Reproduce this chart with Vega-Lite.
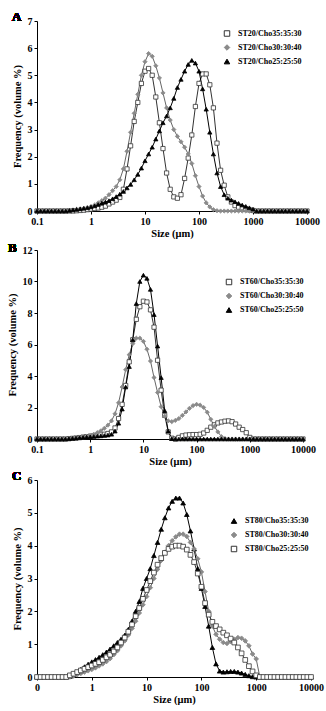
{
"$schema": "https://vega.github.io/schema/vega-lite/v6.json",
"padding": {"left": 7, "top": 11, "right": 2, "bottom": 0},
"spacing": 3,
"datasets": {
"A": [
{"s":1,"x":0.1,"y":0},{"s":1,"x":0.1166,"y":0},{"s":1,"x":0.1359,"y":0},{"s":1,"x":0.1585,"y":0},{"s":1,"x":0.1848,"y":0},{"s":1,"x":0.2154,"y":0},{"s":1,"x":0.2512,"y":0},{"s":1,"x":0.2929,"y":0},{"s":1,"x":0.3415,"y":0},{"s":1,"x":0.3981,"y":0},{"s":1,"x":0.4642,"y":0},{"s":1,"x":0.5412,"y":0.01},{"s":1,"x":0.631,"y":0.02},{"s":1,"x":0.7356,"y":0.03},{"s":1,"x":0.8577,"y":0.05},
{"s":1,"x":1,"y":0.07},{"s":1,"x":1.166,"y":0.09},{"s":1,"x":1.359,"y":0.11},{"s":1,"x":1.585,"y":0.14},{"s":1,"x":1.848,"y":0.18},{"s":1,"x":2.154,"y":0.26},{"s":1,"x":2.512,"y":0.33},{"s":1,"x":2.929,"y":0.4},{"s":1,"x":3.415,"y":0.5},{"s":1,"x":3.981,"y":0.8},{"s":1,"x":4.642,"y":1.55},{"s":1,"x":5.412,"y":2.4},{"s":1,"x":6.31,"y":3.3},{"s":1,"x":7.356,"y":4.0},{"s":1,"x":8.577,"y":4.7},
{"s":1,"x":10,"y":5.15},{"s":1,"x":11.66,"y":5.25},{"s":1,"x":13.59,"y":5.0},{"s":1,"x":15.85,"y":4.2},{"s":1,"x":18.48,"y":3.25},{"s":1,"x":21.54,"y":2.3},{"s":1,"x":25.12,"y":1.4},{"s":1,"x":29.29,"y":0.8},{"s":1,"x":34.15,"y":0.52},{"s":1,"x":39.81,"y":0.47},{"s":1,"x":46.42,"y":0.6},{"s":1,"x":54.12,"y":1.2},{"s":1,"x":63.1,"y":1.95},{"s":1,"x":73.56,"y":2.8},{"s":1,"x":85.77,"y":3.85},
{"s":1,"x":100,"y":4.7},{"s":1,"x":116.6,"y":5.05},{"s":1,"x":135.9,"y":5.05},{"s":1,"x":158.5,"y":4.65},{"s":1,"x":184.8,"y":3.8},{"s":1,"x":215.4,"y":2.5},{"s":1,"x":251.2,"y":1.5},{"s":1,"x":292.9,"y":0.95},{"s":1,"x":341.5,"y":0.52},{"s":1,"x":398.1,"y":0.33},{"s":1,"x":464.2,"y":0.2},{"s":1,"x":541.2,"y":0.14},{"s":1,"x":631,"y":0.1},{"s":1,"x":735.6,"y":0.07},{"s":1,"x":857.7,"y":0.04},
{"s":1,"x":1000,"y":0.02},{"s":1,"x":1166,"y":0},{"s":1,"x":1359,"y":0},{"s":1,"x":1585,"y":0},{"s":1,"x":1848,"y":0},{"s":1,"x":2154,"y":0},{"s":1,"x":2512,"y":0},{"s":1,"x":2929,"y":0},{"s":1,"x":3415,"y":0},{"s":1,"x":3981,"y":0},{"s":1,"x":4642,"y":0},{"s":1,"x":5412,"y":0},{"s":1,"x":6310,"y":0},{"s":1,"x":7356,"y":0},{"s":1,"x":8577,"y":0},{"s":1,"x":10000,"y":0},
{"s":2,"x":0.1,"y":0},{"s":2,"x":0.1166,"y":0},{"s":2,"x":0.1359,"y":0},{"s":2,"x":0.1585,"y":0},{"s":2,"x":0.1848,"y":0},{"s":2,"x":0.2154,"y":0},{"s":2,"x":0.2512,"y":0},{"s":2,"x":0.2929,"y":0},{"s":2,"x":0.3415,"y":0.01},{"s":2,"x":0.3981,"y":0.02},{"s":2,"x":0.4642,"y":0.04},{"s":2,"x":0.5412,"y":0.06},{"s":2,"x":0.631,"y":0.08},{"s":2,"x":0.7356,"y":0.1},{"s":2,"x":0.8577,"y":0.13},
{"s":2,"x":1,"y":0.17},{"s":2,"x":1.166,"y":0.22},{"s":2,"x":1.359,"y":0.3},{"s":2,"x":1.585,"y":0.38},{"s":2,"x":1.848,"y":0.47},{"s":2,"x":2.154,"y":0.6},{"s":2,"x":2.512,"y":0.75},{"s":2,"x":2.929,"y":0.9},{"s":2,"x":3.415,"y":1.15},{"s":2,"x":3.981,"y":1.55},{"s":2,"x":4.642,"y":2.2},{"s":2,"x":5.412,"y":2.9},{"s":2,"x":6.31,"y":3.6},{"s":2,"x":7.356,"y":4.3},{"s":2,"x":8.577,"y":5.0},
{"s":2,"x":10,"y":5.5},{"s":2,"x":11.66,"y":5.8},{"s":2,"x":13.59,"y":5.7},{"s":2,"x":15.85,"y":5.35},{"s":2,"x":18.48,"y":4.9},{"s":2,"x":21.54,"y":4.35},{"s":2,"x":25.12,"y":3.8},{"s":2,"x":29.29,"y":3.35},{"s":2,"x":34.15,"y":3.0},{"s":2,"x":39.81,"y":2.75},{"s":2,"x":46.42,"y":2.55},{"s":2,"x":54.12,"y":2.35},{"s":2,"x":63.1,"y":2.1},{"s":2,"x":73.56,"y":1.75},{"s":2,"x":85.77,"y":1.3},
{"s":2,"x":100,"y":0.9},{"s":2,"x":116.6,"y":0.55},{"s":2,"x":135.9,"y":0.3},{"s":2,"x":158.5,"y":0.15},{"s":2,"x":184.8,"y":0.05},{"s":2,"x":215.4,"y":0.01},{"s":2,"x":251.2,"y":0},{"s":2,"x":292.9,"y":0},{"s":2,"x":341.5,"y":0},{"s":2,"x":398.1,"y":0},{"s":2,"x":464.2,"y":0},{"s":2,"x":541.2,"y":0},{"s":2,"x":631,"y":0},{"s":2,"x":735.6,"y":0},{"s":2,"x":857.7,"y":0},
{"s":2,"x":1000,"y":0},{"s":2,"x":1166,"y":0},{"s":2,"x":1359,"y":0},{"s":2,"x":1585,"y":0},{"s":2,"x":1848,"y":0},{"s":2,"x":2154,"y":0},{"s":2,"x":2512,"y":0},{"s":2,"x":2929,"y":0},{"s":2,"x":3415,"y":0},{"s":2,"x":3981,"y":0},{"s":2,"x":4642,"y":0},{"s":2,"x":5412,"y":0},{"s":2,"x":6310,"y":0},{"s":2,"x":7356,"y":0},{"s":2,"x":8577,"y":0},{"s":2,"x":10000,"y":0},
{"s":3,"x":0.1,"y":0},{"s":3,"x":0.1166,"y":0},{"s":3,"x":0.1359,"y":0},{"s":3,"x":0.1585,"y":0},{"s":3,"x":0.1848,"y":0},{"s":3,"x":0.2154,"y":0},{"s":3,"x":0.2512,"y":0},{"s":3,"x":0.2929,"y":0},{"s":3,"x":0.3415,"y":0},{"s":3,"x":0.3981,"y":0.02},{"s":3,"x":0.4642,"y":0.04},{"s":3,"x":0.5412,"y":0.06},{"s":3,"x":0.631,"y":0.08},{"s":3,"x":0.7356,"y":0.1},{"s":3,"x":0.8577,"y":0.12},
{"s":3,"x":1,"y":0.15},{"s":3,"x":1.166,"y":0.19},{"s":3,"x":1.359,"y":0.24},{"s":3,"x":1.585,"y":0.29},{"s":3,"x":1.848,"y":0.33},{"s":3,"x":2.154,"y":0.38},{"s":3,"x":2.512,"y":0.45},{"s":3,"x":2.929,"y":0.53},{"s":3,"x":3.415,"y":0.62},{"s":3,"x":3.981,"y":0.72},{"s":3,"x":4.642,"y":0.85},{"s":3,"x":5.412,"y":0.98},{"s":3,"x":6.31,"y":1.15},{"s":3,"x":7.356,"y":1.35},{"s":3,"x":8.577,"y":1.58},
{"s":3,"x":10,"y":1.85},{"s":3,"x":11.66,"y":2.1},{"s":3,"x":13.59,"y":2.35},{"s":3,"x":15.85,"y":2.65},{"s":3,"x":18.48,"y":2.95},{"s":3,"x":21.54,"y":3.25},{"s":3,"x":25.12,"y":3.5},{"s":3,"x":29.29,"y":3.8},{"s":3,"x":34.15,"y":4.15},{"s":3,"x":39.81,"y":4.55},{"s":3,"x":46.42,"y":4.85},{"s":3,"x":54.12,"y":5.15},{"s":3,"x":63.1,"y":5.4},{"s":3,"x":73.56,"y":5.55},{"s":3,"x":85.77,"y":5.45},
{"s":3,"x":100,"y":5.15},{"s":3,"x":116.6,"y":4.5},{"s":3,"x":135.9,"y":3.75},{"s":3,"x":158.5,"y":2.9},{"s":3,"x":184.8,"y":2.1},{"s":3,"x":215.4,"y":1.4},{"s":3,"x":251.2,"y":0.9},{"s":3,"x":292.9,"y":0.6},{"s":3,"x":341.5,"y":0.47},{"s":3,"x":398.1,"y":0.4},{"s":3,"x":464.2,"y":0.34},{"s":3,"x":541.2,"y":0.28},{"s":3,"x":631,"y":0.22},{"s":3,"x":735.6,"y":0.17},{"s":3,"x":857.7,"y":0.12},
{"s":3,"x":1000,"y":0.07},{"s":3,"x":1166,"y":0},{"s":3,"x":1359,"y":0},{"s":3,"x":1585,"y":0},{"s":3,"x":1848,"y":0},{"s":3,"x":2154,"y":0},{"s":3,"x":2512,"y":0},{"s":3,"x":2929,"y":0},{"s":3,"x":3415,"y":0},{"s":3,"x":3981,"y":0},{"s":3,"x":4642,"y":0},{"s":3,"x":5412,"y":0},{"s":3,"x":6310,"y":0},{"s":3,"x":7356,"y":0},{"s":3,"x":8577,"y":0},{"s":3,"x":10000,"y":0}
],
"B": [
{"s":1,"x":0.1,"y":0},{"s":1,"x":0.1166,"y":0},{"s":1,"x":0.1359,"y":0},{"s":1,"x":0.1585,"y":0},{"s":1,"x":0.1848,"y":0},{"s":1,"x":0.2154,"y":0},{"s":1,"x":0.2512,"y":0},{"s":1,"x":0.2929,"y":0},{"s":1,"x":0.3415,"y":0},{"s":1,"x":0.3981,"y":0.02},{"s":1,"x":0.4642,"y":0.04},{"s":1,"x":0.5412,"y":0.06},{"s":1,"x":0.631,"y":0.09},{"s":1,"x":0.7356,"y":0.12},{"s":1,"x":0.8577,"y":0.15},
{"s":1,"x":1,"y":0.18},{"s":1,"x":1.166,"y":0.2},{"s":1,"x":1.359,"y":0.23},{"s":1,"x":1.585,"y":0.26},{"s":1,"x":1.848,"y":0.3},{"s":1,"x":2.154,"y":0.35},{"s":1,"x":2.512,"y":0.45},{"s":1,"x":2.929,"y":0.7},{"s":1,"x":3.415,"y":1.3},{"s":1,"x":3.981,"y":2.2},{"s":1,"x":4.642,"y":3.4},{"s":1,"x":5.412,"y":4.9},{"s":1,"x":6.31,"y":6.3},{"s":1,"x":7.356,"y":7.6},{"s":1,"x":8.577,"y":8.4},
{"s":1,"x":10,"y":8.75},{"s":1,"x":11.66,"y":8.7},{"s":1,"x":13.59,"y":8.2},{"s":1,"x":15.85,"y":7.1},{"s":1,"x":18.48,"y":5.0},{"s":1,"x":21.54,"y":3.1},{"s":1,"x":25.12,"y":1.5},{"s":1,"x":29.29,"y":0.45},{"s":1,"x":34.15,"y":0.05},{"s":1,"x":39.81,"y":0},{"s":1,"x":46.42,"y":0.1},{"s":1,"x":54.12,"y":0.2},{"s":1,"x":63.1,"y":0.25},{"s":1,"x":73.56,"y":0.27},{"s":1,"x":85.77,"y":0.28},
{"s":1,"x":100,"y":0.28},{"s":1,"x":116.6,"y":0.3},{"s":1,"x":135.9,"y":0.38},{"s":1,"x":158.5,"y":0.55},{"s":1,"x":184.8,"y":0.75},{"s":1,"x":215.4,"y":0.9},{"s":1,"x":251.2,"y":1.02},{"s":1,"x":292.9,"y":1.08},{"s":1,"x":341.5,"y":1.13},{"s":1,"x":398.1,"y":1.15},{"s":1,"x":464.2,"y":1.1},{"s":1,"x":541.2,"y":0.95},{"s":1,"x":631,"y":0.75},{"s":1,"x":735.6,"y":0.6},{"s":1,"x":857.7,"y":0.4},
{"s":1,"x":1000,"y":0.1},{"s":1,"x":1166,"y":0},{"s":1,"x":1359,"y":0},{"s":1,"x":1585,"y":0},{"s":1,"x":1848,"y":0},{"s":1,"x":2154,"y":0},{"s":1,"x":2512,"y":0},{"s":1,"x":2929,"y":0},{"s":1,"x":3415,"y":0},{"s":1,"x":3981,"y":0},{"s":1,"x":4642,"y":0},{"s":1,"x":5412,"y":0},{"s":1,"x":6310,"y":0},{"s":1,"x":7356,"y":0},{"s":1,"x":8577,"y":0},{"s":1,"x":10000,"y":0},
{"s":2,"x":0.1,"y":0},{"s":2,"x":0.1166,"y":0},{"s":2,"x":0.1359,"y":0},{"s":2,"x":0.1585,"y":0},{"s":2,"x":0.1848,"y":0},{"s":2,"x":0.2154,"y":0},{"s":2,"x":0.2512,"y":0},{"s":2,"x":0.2929,"y":0},{"s":2,"x":0.3415,"y":0},{"s":2,"x":0.3981,"y":0.02},{"s":2,"x":0.4642,"y":0.04},{"s":2,"x":0.5412,"y":0.07},{"s":2,"x":0.631,"y":0.1},{"s":2,"x":0.7356,"y":0.13},{"s":2,"x":0.8577,"y":0.17},
{"s":2,"x":1,"y":0.22},{"s":2,"x":1.166,"y":0.3},{"s":2,"x":1.359,"y":0.4},{"s":2,"x":1.585,"y":0.52},{"s":2,"x":1.848,"y":0.68},{"s":2,"x":2.154,"y":0.88},{"s":2,"x":2.512,"y":1.15},{"s":2,"x":2.929,"y":1.6},{"s":2,"x":3.415,"y":2.3},{"s":2,"x":3.981,"y":3.3},{"s":2,"x":4.642,"y":4.4},{"s":2,"x":5.412,"y":5.35},{"s":2,"x":6.31,"y":6.05},{"s":2,"x":7.356,"y":6.4},{"s":2,"x":8.577,"y":6.4},
{"s":2,"x":10,"y":6.2},{"s":2,"x":11.66,"y":5.7},{"s":2,"x":13.59,"y":4.95},{"s":2,"x":15.85,"y":3.9},{"s":2,"x":18.48,"y":2.95},{"s":2,"x":21.54,"y":2.05},{"s":2,"x":25.12,"y":1.45},{"s":2,"x":29.29,"y":1.15},{"s":2,"x":34.15,"y":1.1},{"s":2,"x":39.81,"y":1.18},{"s":2,"x":46.42,"y":1.3},{"s":2,"x":54.12,"y":1.5},{"s":2,"x":63.1,"y":1.72},{"s":2,"x":73.56,"y":1.95},{"s":2,"x":85.77,"y":2.12},
{"s":2,"x":100,"y":2.2},{"s":2,"x":116.6,"y":2.15},{"s":2,"x":135.9,"y":2.0},{"s":2,"x":158.5,"y":1.7},{"s":2,"x":184.8,"y":1.25},{"s":2,"x":215.4,"y":0.8},{"s":2,"x":251.2,"y":0.45},{"s":2,"x":292.9,"y":0.15},{"s":2,"x":341.5,"y":0.03},{"s":2,"x":398.1,"y":0},{"s":2,"x":464.2,"y":0},{"s":2,"x":541.2,"y":0},{"s":2,"x":631,"y":0},{"s":2,"x":735.6,"y":0},{"s":2,"x":857.7,"y":0},
{"s":2,"x":1000,"y":0},{"s":2,"x":1166,"y":0},{"s":2,"x":1359,"y":0},{"s":2,"x":1585,"y":0},{"s":2,"x":1848,"y":0},{"s":2,"x":2154,"y":0},{"s":2,"x":2512,"y":0},{"s":2,"x":2929,"y":0},{"s":2,"x":3415,"y":0},{"s":2,"x":3981,"y":0},{"s":2,"x":4642,"y":0},{"s":2,"x":5412,"y":0},{"s":2,"x":6310,"y":0},{"s":2,"x":7356,"y":0},{"s":2,"x":8577,"y":0},{"s":2,"x":10000,"y":0},
{"s":3,"x":0.1,"y":0},{"s":3,"x":0.1166,"y":0},{"s":3,"x":0.1359,"y":0},{"s":3,"x":0.1585,"y":0},{"s":3,"x":0.1848,"y":0},{"s":3,"x":0.2154,"y":0},{"s":3,"x":0.2512,"y":0},{"s":3,"x":0.2929,"y":0},{"s":3,"x":0.3415,"y":0},{"s":3,"x":0.3981,"y":0.02},{"s":3,"x":0.4642,"y":0.04},{"s":3,"x":0.5412,"y":0.06},{"s":3,"x":0.631,"y":0.08},{"s":3,"x":0.7356,"y":0.1},{"s":3,"x":0.8577,"y":0.12},
{"s":3,"x":1,"y":0.14},{"s":3,"x":1.166,"y":0.16},{"s":3,"x":1.359,"y":0.18},{"s":3,"x":1.585,"y":0.2},{"s":3,"x":1.848,"y":0.22},{"s":3,"x":2.154,"y":0.25},{"s":3,"x":2.512,"y":0.3},{"s":3,"x":2.929,"y":0.5},{"s":3,"x":3.415,"y":1.0},{"s":3,"x":3.981,"y":1.9},{"s":3,"x":4.642,"y":3.3},{"s":3,"x":5.412,"y":4.6},{"s":3,"x":6.31,"y":6.3},{"s":3,"x":7.356,"y":8.6},{"s":3,"x":8.577,"y":10.0},
{"s":3,"x":10,"y":10.4},{"s":3,"x":11.66,"y":10.2},{"s":3,"x":13.59,"y":9.5},{"s":3,"x":15.85,"y":7.9},{"s":3,"x":18.48,"y":5.9},{"s":3,"x":21.54,"y":3.9},{"s":3,"x":25.12,"y":1.8},{"s":3,"x":29.29,"y":0.5},{"s":3,"x":34.15,"y":0.02},{"s":3,"x":39.81,"y":0},{"s":3,"x":46.42,"y":0},{"s":3,"x":54.12,"y":0},{"s":3,"x":63.1,"y":0},{"s":3,"x":73.56,"y":0},{"s":3,"x":85.77,"y":0},
{"s":3,"x":100,"y":0},{"s":3,"x":116.6,"y":0},{"s":3,"x":135.9,"y":0},{"s":3,"x":158.5,"y":0},{"s":3,"x":184.8,"y":0},{"s":3,"x":215.4,"y":0},{"s":3,"x":251.2,"y":0},{"s":3,"x":292.9,"y":0},{"s":3,"x":341.5,"y":0},{"s":3,"x":398.1,"y":0},{"s":3,"x":464.2,"y":0},{"s":3,"x":541.2,"y":0},{"s":3,"x":631,"y":0},{"s":3,"x":735.6,"y":0},{"s":3,"x":857.7,"y":0},
{"s":3,"x":1000,"y":0},{"s":3,"x":1166,"y":0},{"s":3,"x":1359,"y":0},{"s":3,"x":1585,"y":0},{"s":3,"x":1848,"y":0},{"s":3,"x":2154,"y":0},{"s":3,"x":2512,"y":0},{"s":3,"x":2929,"y":0},{"s":3,"x":3415,"y":0},{"s":3,"x":3981,"y":0},{"s":3,"x":4642,"y":0},{"s":3,"x":5412,"y":0},{"s":3,"x":6310,"y":0},{"s":3,"x":7356,"y":0},{"s":3,"x":8577,"y":0},{"s":3,"x":10000,"y":0}
],
"C": [
{"s":1,"x":0.1,"y":0},{"s":1,"x":0.1166,"y":0},{"s":1,"x":0.1359,"y":0},{"s":1,"x":0.1585,"y":0},{"s":1,"x":0.1848,"y":0},{"s":1,"x":0.2154,"y":0},{"s":1,"x":0.2512,"y":0},{"s":1,"x":0.2929,"y":0},{"s":1,"x":0.3415,"y":0},{"s":1,"x":0.3981,"y":0.02},{"s":1,"x":0.4642,"y":0.08},{"s":1,"x":0.5412,"y":0.15},{"s":1,"x":0.631,"y":0.23},{"s":1,"x":0.7356,"y":0.31},{"s":1,"x":0.8577,"y":0.39},
{"s":1,"x":1,"y":0.46},{"s":1,"x":1.166,"y":0.53},{"s":1,"x":1.359,"y":0.6},{"s":1,"x":1.585,"y":0.68},{"s":1,"x":1.848,"y":0.76},{"s":1,"x":2.154,"y":0.85},{"s":1,"x":2.512,"y":0.95},{"s":1,"x":2.929,"y":1.05},{"s":1,"x":3.415,"y":1.15},{"s":1,"x":3.981,"y":1.27},{"s":1,"x":4.642,"y":1.45},{"s":1,"x":5.412,"y":1.7},{"s":1,"x":6.31,"y":2.0},{"s":1,"x":7.356,"y":2.3},{"s":1,"x":8.577,"y":2.7},
{"s":1,"x":10,"y":3.0},{"s":1,"x":11.66,"y":3.3},{"s":1,"x":13.59,"y":3.7},{"s":1,"x":15.85,"y":4.1},{"s":1,"x":18.48,"y":4.5},{"s":1,"x":21.54,"y":4.85},{"s":1,"x":25.12,"y":5.15},{"s":1,"x":29.29,"y":5.35},{"s":1,"x":34.15,"y":5.45},{"s":1,"x":39.81,"y":5.45},{"s":1,"x":46.42,"y":5.3},{"s":1,"x":54.12,"y":4.95},{"s":1,"x":63.1,"y":4.45},{"s":1,"x":73.56,"y":3.9},{"s":1,"x":85.77,"y":3.3},
{"s":1,"x":100,"y":2.7},{"s":1,"x":116.6,"y":2.15},{"s":1,"x":135.9,"y":1.55},{"s":1,"x":158.5,"y":0.9},{"s":1,"x":184.8,"y":0.4},{"s":1,"x":215.4,"y":0.18},{"s":1,"x":251.2,"y":0.15},{"s":1,"x":292.9,"y":0.16},{"s":1,"x":341.5,"y":0.17},{"s":1,"x":398.1,"y":0.17},{"s":1,"x":464.2,"y":0.15},{"s":1,"x":541.2,"y":0.12},{"s":1,"x":631,"y":0.08},{"s":1,"x":735.6,"y":0.04},{"s":1,"x":857.7,"y":0.01},
{"s":1,"x":1000,"y":0},{"s":1,"x":1166,"y":0},{"s":1,"x":1359,"y":0},{"s":1,"x":1585,"y":0},{"s":1,"x":1848,"y":0},{"s":1,"x":2154,"y":0},{"s":1,"x":2512,"y":0},{"s":1,"x":2929,"y":0},{"s":1,"x":3415,"y":0},{"s":1,"x":3981,"y":0},{"s":1,"x":4642,"y":0},{"s":1,"x":5412,"y":0},{"s":1,"x":6310,"y":0},{"s":1,"x":7356,"y":0},{"s":1,"x":8577,"y":0},{"s":1,"x":10000,"y":0},
{"s":2,"x":0.1,"y":0},{"s":2,"x":0.1166,"y":0},{"s":2,"x":0.1359,"y":0},{"s":2,"x":0.1585,"y":0},{"s":2,"x":0.1848,"y":0},{"s":2,"x":0.2154,"y":0},{"s":2,"x":0.2512,"y":0},{"s":2,"x":0.2929,"y":0},{"s":2,"x":0.3415,"y":0},{"s":2,"x":0.3981,"y":0},{"s":2,"x":0.4642,"y":0.03},{"s":2,"x":0.5412,"y":0.07},{"s":2,"x":0.631,"y":0.11},{"s":2,"x":0.7356,"y":0.15},{"s":2,"x":0.8577,"y":0.19},
{"s":2,"x":1,"y":0.23},{"s":2,"x":1.166,"y":0.28},{"s":2,"x":1.359,"y":0.34},{"s":2,"x":1.585,"y":0.4},{"s":2,"x":1.848,"y":0.47},{"s":2,"x":2.154,"y":0.56},{"s":2,"x":2.512,"y":0.68},{"s":2,"x":2.929,"y":0.8},{"s":2,"x":3.415,"y":0.95},{"s":2,"x":3.981,"y":1.1},{"s":2,"x":4.642,"y":1.28},{"s":2,"x":5.412,"y":1.48},{"s":2,"x":6.31,"y":1.7},{"s":2,"x":7.356,"y":1.95},{"s":2,"x":8.577,"y":2.2},
{"s":2,"x":10,"y":2.45},{"s":2,"x":11.66,"y":2.72},{"s":2,"x":13.59,"y":3.0},{"s":2,"x":15.85,"y":3.28},{"s":2,"x":18.48,"y":3.55},{"s":2,"x":21.54,"y":3.8},{"s":2,"x":25.12,"y":4.0},{"s":2,"x":29.29,"y":4.15},{"s":2,"x":34.15,"y":4.27},{"s":2,"x":39.81,"y":4.35},{"s":2,"x":46.42,"y":4.35},{"s":2,"x":54.12,"y":4.28},{"s":2,"x":63.1,"y":4.1},{"s":2,"x":73.56,"y":3.9},{"s":2,"x":85.77,"y":3.6},
{"s":2,"x":100,"y":3.2},{"s":2,"x":116.6,"y":2.6},{"s":2,"x":135.9,"y":2.0},{"s":2,"x":158.5,"y":1.55},{"s":2,"x":184.8,"y":1.3},{"s":2,"x":215.4,"y":1.15},{"s":2,"x":251.2,"y":1.05},{"s":2,"x":292.9,"y":1.02},{"s":2,"x":341.5,"y":1.08},{"s":2,"x":398.1,"y":1.15},{"s":2,"x":464.2,"y":1.2},{"s":2,"x":541.2,"y":1.18},{"s":2,"x":631,"y":1.1},{"s":2,"x":735.6,"y":0.95},{"s":2,"x":857.7,"y":0.7},
{"s":2,"x":1000,"y":0.55},{"s":2,"x":1166,"y":0},{"s":2,"x":1359,"y":0},{"s":2,"x":1585,"y":0},{"s":2,"x":1848,"y":0},{"s":2,"x":2154,"y":0},{"s":2,"x":2512,"y":0},{"s":2,"x":2929,"y":0},{"s":2,"x":3415,"y":0},{"s":2,"x":3981,"y":0},{"s":2,"x":4642,"y":0},{"s":2,"x":5412,"y":0},{"s":2,"x":6310,"y":0},{"s":2,"x":7356,"y":0},{"s":2,"x":8577,"y":0},{"s":2,"x":10000,"y":0},
{"s":3,"x":0.1,"y":0},{"s":3,"x":0.1166,"y":0},{"s":3,"x":0.1359,"y":0},{"s":3,"x":0.1585,"y":0},{"s":3,"x":0.1848,"y":0},{"s":3,"x":0.2154,"y":0},{"s":3,"x":0.2512,"y":0},{"s":3,"x":0.2929,"y":0},{"s":3,"x":0.3415,"y":0},{"s":3,"x":0.3981,"y":0.05},{"s":3,"x":0.4642,"y":0.1},{"s":3,"x":0.5412,"y":0.15},{"s":3,"x":0.631,"y":0.2},{"s":3,"x":0.7356,"y":0.25},{"s":3,"x":0.8577,"y":0.3},
{"s":3,"x":1,"y":0.35},{"s":3,"x":1.166,"y":0.4},{"s":3,"x":1.359,"y":0.45},{"s":3,"x":1.585,"y":0.52},{"s":3,"x":1.848,"y":0.6},{"s":3,"x":2.154,"y":0.68},{"s":3,"x":2.512,"y":0.78},{"s":3,"x":2.929,"y":0.9},{"s":3,"x":3.415,"y":1.05},{"s":3,"x":3.981,"y":1.2},{"s":3,"x":4.642,"y":1.38},{"s":3,"x":5.412,"y":1.6},{"s":3,"x":6.31,"y":1.85},{"s":3,"x":7.356,"y":2.1},{"s":3,"x":8.577,"y":2.38},
{"s":3,"x":10,"y":2.65},{"s":3,"x":11.66,"y":2.92},{"s":3,"x":13.59,"y":3.18},{"s":3,"x":15.85,"y":3.42},{"s":3,"x":18.48,"y":3.62},{"s":3,"x":21.54,"y":3.78},{"s":3,"x":25.12,"y":3.9},{"s":3,"x":29.29,"y":3.97},{"s":3,"x":34.15,"y":4.0},{"s":3,"x":39.81,"y":4.0},{"s":3,"x":46.42,"y":3.97},{"s":3,"x":54.12,"y":3.88},{"s":3,"x":63.1,"y":3.72},{"s":3,"x":73.56,"y":3.5},{"s":3,"x":85.77,"y":3.15},
{"s":3,"x":100,"y":2.75},{"s":3,"x":116.6,"y":2.25},{"s":3,"x":135.9,"y":1.9},{"s":3,"x":158.5,"y":1.68},{"s":3,"x":184.8,"y":1.55},{"s":3,"x":215.4,"y":1.45},{"s":3,"x":251.2,"y":1.35},{"s":3,"x":292.9,"y":1.27},{"s":3,"x":341.5,"y":1.17},{"s":3,"x":398.1,"y":1.05},{"s":3,"x":464.2,"y":0.9},{"s":3,"x":541.2,"y":0.72},{"s":3,"x":631,"y":0.52},{"s":3,"x":735.6,"y":0.33},{"s":3,"x":857.7,"y":0.17},
{"s":3,"x":1000,"y":0.05},{"s":3,"x":1166,"y":0},{"s":3,"x":1359,"y":0},{"s":3,"x":1585,"y":0},{"s":3,"x":1848,"y":0},{"s":3,"x":2154,"y":0},{"s":3,"x":2512,"y":0},{"s":3,"x":2929,"y":0},{"s":3,"x":3415,"y":0},{"s":3,"x":3981,"y":0},{"s":3,"x":4642,"y":0},{"s":3,"x":5412,"y":0},{"s":3,"x":6310,"y":0},{"s":3,"x":7356,"y":0},{"s":3,"x":8577,"y":0},{"s":3,"x":10000,"y":0}
]
},
"resolve": {"scale": {"color": "independent", "shape": "independent", "fill": "independent", "stroke": "independent"}},
"vconcat": [
{
"width": 270, "height": 190,
"data": {"name": "A"},
"encoding": {
"x": {"field": "x", "type": "quantitative", "scale": {"type": "log", "domain": [0.1, 10000]}, "axis": {"values": [0.1, 1, 10, 100, 1000, 10000], "labelExpr": "datum.value < 1 ? '0.1' : format(datum.value, 'd')", "title": "Size (μm)"}},
"y": {"field": "y", "type": "quantitative", "scale": {"domain": [0, 7], "nice": false}, "axis": {"values": [0, 1, 2, 3, 4, 5, 6, 7], "title": "Frequency (volume %)"}}
},
"layer": [
{"mark": {"type": "line", "strokeWidth": 1}, "encoding": {"color": {"field": "s", "type": "nominal", "scale": {"domain": [3, 2, 1], "range": ["#000000", "#666666", "#333333"]}, "legend": null}}},
{"mark": {"type": "point", "opacity": 1, "strokeWidth": 0.8, "size": 18},
"encoding": {
"shape": {"field": "s", "type": "nominal", "scale": {"domain": [1, 2, 3], "range": ["square", "diamond", "triangle-up"]},
"legend": {"orient": "none", "legendX": 186, "legendY": 8.5, "title": null, "padding": 0, "rowPadding": 4, "symbolSize": 30, "symbolStrokeWidth": 1, "labelOffset": 7, "labelExpr": "datum.value == 1 ? 'ST20/Cho35:35:30' : datum.value == 2 ? 'ST20/Cho30:30:40' : 'ST20/Cho25:25:50'"}},
"fill": {"field": "s", "type": "nominal", "scale": {"domain": [1, 2, 3], "range": ["#ffffff", "#8a8a8a", "#000000"]},
"legend": {"orient": "none", "legendX": 186, "legendY": 8.5, "title": null, "padding": 0, "rowPadding": 4, "symbolSize": 30, "symbolStrokeWidth": 1, "labelOffset": 7, "labelExpr": "datum.value == 1 ? 'ST20/Cho35:35:30' : datum.value == 2 ? 'ST20/Cho30:30:40' : 'ST20/Cho25:25:50'"}},
"stroke": {"field": "s", "type": "nominal", "scale": {"domain": [1, 2, 3], "range": ["#333333", "#8a8a8a", "#000000"]},
"legend": {"orient": "none", "legendX": 186, "legendY": 8.5, "title": null, "padding": 0, "rowPadding": 4, "symbolSize": 30, "symbolStrokeWidth": 1, "labelOffset": 7, "labelExpr": "datum.value == 1 ? 'ST20/Cho35:35:30' : datum.value == 2 ? 'ST20/Cho30:30:40' : 'ST20/Cho25:25:50'"}}
}},
{"mark": {"type": "text", "align": "left", "baseline": "alphabetic", "dx": -25, "dy": 0, "font": "Liberation Serif", "fontSize": 13, "fontWeight": "bold", "color": "#000000"},
"encoding": {"x": {"datum": 0.1}, "y": {"datum": 7}, "text": {"value": "A"}}}
]
},
{
"width": 266, "height": 189,
"data": {"name": "B"},
"encoding": {
"x": {"field": "x", "type": "quantitative", "scale": {"type": "log", "domain": [0.1, 10000]}, "axis": {"values": [0.1, 1, 10, 100, 1000, 10000], "labelExpr": "datum.value < 1 ? '0.1' : format(datum.value, 'd')", "title": "Size (μm)"}},
"y": {"field": "y", "type": "quantitative", "scale": {"domain": [0, 12], "nice": false}, "axis": {"values": [0, 2, 4, 6, 8, 10, 12], "title": "Frequency (volume %)"}}
},
"layer": [
{"mark": {"type": "line", "strokeWidth": 1}, "encoding": {"color": {"field": "s", "type": "nominal", "scale": {"domain": [3, 2, 1], "range": ["#000000", "#666666", "#333333"]}, "legend": null}}},
{"mark": {"type": "point", "opacity": 1, "strokeWidth": 0.8, "size": 18},
"encoding": {
"shape": {"field": "s", "type": "nominal", "scale": {"domain": [1, 2, 3], "range": ["square", "diamond", "triangle-up"]},
"legend": {"orient": "none", "legendX": 188, "legendY": 28, "title": null, "padding": 0, "rowPadding": 4, "symbolSize": 30, "symbolStrokeWidth": 1, "labelOffset": 7, "labelExpr": "datum.value == 1 ? 'ST60/Cho35:35:30' : datum.value == 2 ? 'ST60/Cho30:30:40' : 'ST60/Cho25:25:50'"}},
"fill": {"field": "s", "type": "nominal", "scale": {"domain": [1, 2, 3], "range": ["#ffffff", "#8a8a8a", "#000000"]},
"legend": {"orient": "none", "legendX": 188, "legendY": 28, "title": null, "padding": 0, "rowPadding": 4, "symbolSize": 30, "symbolStrokeWidth": 1, "labelOffset": 7, "labelExpr": "datum.value == 1 ? 'ST60/Cho35:35:30' : datum.value == 2 ? 'ST60/Cho30:30:40' : 'ST60/Cho25:25:50'"}},
"stroke": {"field": "s", "type": "nominal", "scale": {"domain": [1, 2, 3], "range": ["#333333", "#8a8a8a", "#000000"]},
"legend": {"orient": "none", "legendX": 188, "legendY": 28, "title": null, "padding": 0, "rowPadding": 4, "symbolSize": 30, "symbolStrokeWidth": 1, "labelOffset": 7, "labelExpr": "datum.value == 1 ? 'ST60/Cho35:35:30' : datum.value == 2 ? 'ST60/Cho30:30:40' : 'ST60/Cho25:25:50'"}}
}},
{"mark": {"type": "text", "align": "left", "baseline": "alphabetic", "dx": -29, "dy": 2, "font": "Liberation Serif", "fontSize": 13, "fontWeight": "bold", "color": "#000000"},
"encoding": {"x": {"datum": 0.1}, "y": {"datum": 12}, "text": {"value": "B"}}}
]
},
{
"width": 274, "height": 197,
"data": {"name": "C"},
"encoding": {
"x": {"field": "x", "type": "quantitative", "scale": {"type": "log", "domain": [0.1, 10000]}, "axis": {"values": [0.1, 1, 10, 100, 1000, 10000], "labelExpr": "datum.value < 1 ? '0' : format(datum.value, 'd')", "title": "Size (μm)"}},
"y": {"field": "y", "type": "quantitative", "scale": {"domain": [0, 6], "nice": false}, "axis": {"values": [0, 1, 2, 3, 4, 5, 6], "title": "Frequency (volume %)"}}
},
"layer": [
{"mark": {"type": "line", "strokeWidth": 1}, "encoding": {"color": {"field": "s", "type": "nominal", "scale": {"domain": [3, 2, 1], "range": ["#333333", "#666666", "#000000"]}, "legend": null}}},
{"mark": {"type": "point", "opacity": 1, "strokeWidth": 0.8, "size": 22},
"encoding": {
"shape": {"field": "s", "type": "nominal", "scale": {"domain": [1, 2, 3], "range": ["triangle-up", "diamond", "square"]},
"legend": {"orient": "none", "legendX": 193, "legendY": 37, "title": null, "padding": 0, "rowPadding": 4, "symbolSize": 30, "symbolStrokeWidth": 1, "labelOffset": 7, "labelExpr": "datum.value == 1 ? 'ST80/Cho35:35:30' : datum.value == 2 ? 'ST80/Cho30:30:40' : 'ST80/Cho25:25:50'"}},
"fill": {"field": "s", "type": "nominal", "scale": {"domain": [1, 2, 3], "range": ["#000000", "#8a8a8a", "#ffffff"]},
"legend": {"orient": "none", "legendX": 193, "legendY": 37, "title": null, "padding": 0, "rowPadding": 4, "symbolSize": 30, "symbolStrokeWidth": 1, "labelOffset": 7, "labelExpr": "datum.value == 1 ? 'ST80/Cho35:35:30' : datum.value == 2 ? 'ST80/Cho30:30:40' : 'ST80/Cho25:25:50'"}},
"stroke": {"field": "s", "type": "nominal", "scale": {"domain": [1, 2, 3], "range": ["#000000", "#8a8a8a", "#333333"]},
"legend": {"orient": "none", "legendX": 193, "legendY": 37, "title": null, "padding": 0, "rowPadding": 4, "symbolSize": 30, "symbolStrokeWidth": 1, "labelOffset": 7, "labelExpr": "datum.value == 1 ? 'ST80/Cho35:35:30' : datum.value == 2 ? 'ST80/Cho30:30:40' : 'ST80/Cho25:25:50'"}}
}},
{"mark": {"type": "text", "align": "left", "baseline": "alphabetic", "dx": -25, "dy": 0, "font": "Liberation Serif", "fontSize": 13, "fontWeight": "bold", "color": "#000000"},
"encoding": {"x": {"datum": 0.1}, "y": {"datum": 6}, "text": {"value": "C"}}}
]
}
],
"config": {
"view": {"stroke": null},
"font": "Liberation Serif",
"axis": {"grid": false, "domainColor": "#000000", "domainWidth": 1, "tickColor": "#000000", "tickSize": 3, "labelFont": "Liberation Serif", "labelFontSize": 10, "labelFontWeight": "bold", "labelColor": "#000000", "labelPadding": 2, "titleFont": "Liberation Serif", "titleFontSize": 10.5, "titleFontWeight": "bold", "titleColor": "#000000"},
"axisX": {"titlePadding": 2, "labelFlush": false, "labelOverlap": false},
"axisY": {"titlePadding": 5},
"legend": {"labelFont": "Liberation Serif", "labelFontSize": 8, "labelFontWeight": "bold", "labelColor": "#000000"}
}
}
